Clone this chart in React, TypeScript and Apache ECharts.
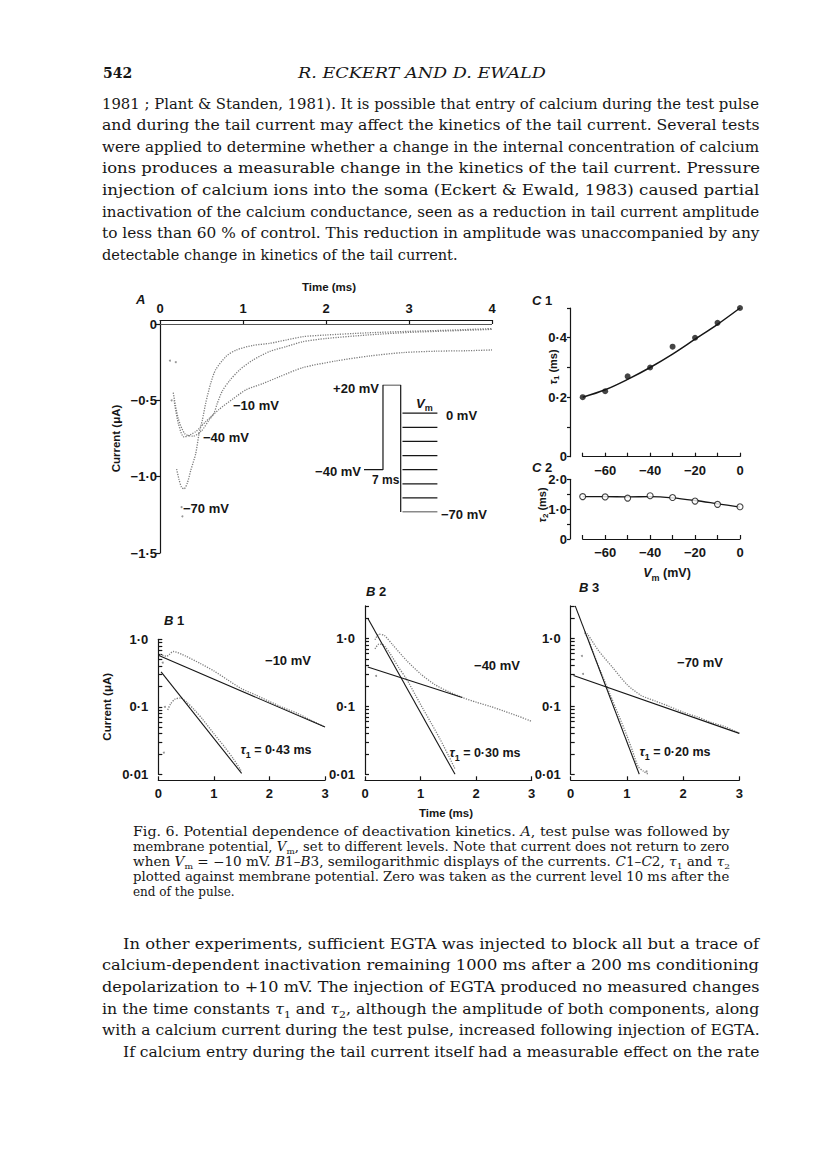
import React, { useEffect, useRef } from "react";
import * as echarts from "echarts";

// ---------------- DATA ----------------
// Panel A: tail currents, [time (ms), current (µA)]
const tailM10: number[][] = [
  [0.17, -0.5], [0.22, -0.65], [0.29, -0.74], [0.43, -0.705], [0.55, -0.64], [0.71, -0.56],
  [0.88, -0.49], [1.04, -0.43], [1.24, -0.39], [1.44, -0.345], [1.72, -0.286], [2.12, -0.242],
  [2.53, -0.209], [2.93, -0.187], [3.33, -0.178], [3.7, -0.175], [4.0, -0.17],
];
const tailM40: number[][] = [
  [0.16, -0.45], [0.22, -0.62], [0.3, -0.72], [0.4, -0.735], [0.5, -0.7], [0.59, -0.63],
  [0.65, -0.585], [0.69, -0.52], [0.75, -0.44], [0.84, -0.37], [0.96, -0.3], [1.12, -0.236],
  [1.32, -0.18], [1.52, -0.148], [1.72, -0.116], [2.0, -0.095], [2.5, -0.072], [3.0, -0.055],
  [3.5, -0.045], [4.0, -0.035],
];
const tailM70: number[][] = [
  [0.2, -0.95], [0.23, -1.02], [0.26, -1.07], [0.29, -1.08], [0.33, -1.04], [0.37, -0.96],
  [0.43, -0.85], [0.47, -0.72], [0.51, -0.63], [0.55, -0.52], [0.61, -0.39], [0.67, -0.3],
  [0.8, -0.21], [0.92, -0.17], [1.12, -0.14], [1.32, -0.127], [1.52, -0.105], [1.72, -0.083],
  [2.0, -0.072], [2.5, -0.058], [3.0, -0.048], [3.5, -0.04], [4.0, -0.03],
];
const tailDots: number[][] = [[0.12, -0.24], [0.19, -0.25], [0.14, -0.5], [0.26, -1.2], [0.27, -1.26]];

// Panel A inset: voltage protocol, [time (ms), Vm (mV)]
const protocolPulse: number[][] = [[-7.5, -40], [0, -40], [0, 20], [7, 20], [7, -70]];
const stepLevels: number[] = [0, -10, -20, -30, -40, -50, -60, -70];
const stepSpan: number[] = [7.7, 21.5];

// Panels C1/C2: time constants vs membrane potential
const vm: number[] = [-70, -60, -50, -40, -30, -20, -10, 0];
const tau1: number[] = [0.2, 0.22, 0.27, 0.3, 0.37, 0.4, 0.45, 0.5];
const tau1Fit: number[] = [0.2, 0.225, 0.26, 0.3, 0.345, 0.395, 0.445, 0.5];
const tau2: number[] = [1.42, 1.41, 1.37, 1.45, 1.39, 1.27, 1.16, 1.08];
const tau2Fit: number[] = [1.42, 1.42, 1.41, 1.42, 1.38, 1.29, 1.18, 1.07];

// Panels B1–B3: semilog currents, [time (ms), current (µA)]
const b1Raw: number[][] = [
  [0.03, 0.6], [0.15, 0.56], [0.27, 0.66], [0.5, 0.56], [0.75, 0.44], [1.0, 0.34], [1.25, 0.25],
  [1.5, 0.185], [1.75, 0.15], [2.0, 0.12], [2.25, 0.097], [2.5, 0.08], [2.75, 0.063], [3.0, 0.05],
];
const b1Diff: number[][] = [
  [0.17, 0.09], [0.22, 0.11], [0.3, 0.13], [0.4, 0.135], [0.5, 0.12], [0.65, 0.09], [0.8, 0.065],
  [1.0, 0.04], [1.2, 0.025], [1.35, 0.017], [1.5, 0.011],
];
const b1Dots: number[][] = [[0.1, 0.021], [0.12, 0.1], [0.08, 0.45]];
const b1SlowFit: number[][] = [[0, 0.58], [3, 0.05]];
const b1FastFit: number[][] = [[0.05, 0.33], [1.5, 0.0103]];

const b2Raw: number[][] = [
  [0.18, 0.95], [0.25, 1.15], [0.35, 1.1], [0.5, 0.8], [0.75, 0.47], [1.0, 0.3], [1.25, 0.21],
  [1.5, 0.165], [1.75, 0.135], [2.0, 0.115], [2.25, 0.1], [2.5, 0.085], [2.75, 0.072], [3.0, 0.06],
];
const b2Diff: number[][] = [
  [0.18, 0.7], [0.25, 0.82], [0.33, 0.8], [0.45, 0.6], [0.6, 0.38], [0.75, 0.25], [0.9, 0.15],
  [1.05, 0.09], [1.2, 0.055], [1.35, 0.033], [1.5, 0.019], [1.62, 0.012],
];
const b2Dots: number[][] = [[0.2, 0.28]];
const b2SlowFit: number[][] = [[0.05, 0.38], [1.75, 0.135]];
const b2FastFit: number[][] = [[0.05, 1.97], [1.62, 0.01]];

const b3Raw: number[][] = [
  [0.25, 1.25], [0.3, 1.15], [0.5, 0.65], [0.75, 0.37], [1.0, 0.21], [1.25, 0.145], [1.5, 0.12],
  [1.75, 0.1], [2.0, 0.082], [2.25, 0.07], [2.5, 0.058], [2.75, 0.05], [3.0, 0.04],
];
const b3Diff: number[][] = [
  [0.25, 1.2], [0.32, 0.95], [0.4, 0.62], [0.55, 0.3], [0.7, 0.15], [0.85, 0.075], [1.0, 0.037],
  [1.1, 0.022], [1.2, 0.013], [1.3, 0.011], [1.38, 0.01],
];
const b3Dots: number[][] = [[0.2, 0.55], [0.22, 0.3], [1.35, 0.011]];
const b3SlowFit: number[][] = [[0.05, 0.285], [3, 0.04]];
const b3FastFit: number[][] = [[0.08, 3.0], [1.22, 0.01]];

// Tick values
const timeTicksA: number[] = [0, 1, 2, 3, 4];
const logTickValues: number[] = [
  0.01, 0.02, 0.03, 0.04, 0.05, 0.06, 0.07, 0.08, 0.09,
  0.1, 0.2, 0.3, 0.4, 0.5, 0.6, 0.7, 0.8, 0.9, 1, 2, 3,
];
const logLabelValues: number[] = [0.01, 0.1, 1];
const vmLabelValues: number[] = [-60, -40, -20, 0];
const tau1LabelValues: number[] = [0, 0.2, 0.4];
const tau2LabelValues: number[] = [0, 1, 2];

// Page text
const headerPage = "542";
const headerAuthors = "R. ECKERT AND D. EWALD";
const bodyLines: string[] = [
  "1981 ; Plant & Standen, 1981). It is possible that entry of calcium during the test pulse",
  "and during the tail current may affect the kinetics of the tail current. Several tests",
  "were applied to determine whether a change in the internal concentration of calcium",
  "ions produces a measurable change in the kinetics of the tail current. Pressure",
  "injection of calcium ions into the soma (Eckert & Ewald, 1983) caused partial",
  "inactivation of the calcium conductance, seen as a reduction in tail current amplitude",
  "to less than 60 % of control. This reduction in amplitude was unaccompanied by any",
  "detectable change in kinetics of the tail current.",
];
const captionLines: string[] = [
  "{n|Fig. 6. Potential dependence of deactivation kinetics. }{i|A}{n|, test pulse was followed by}",
  "{n|membrane potential, }{i|V}{s|m}{n|, set to different levels. Note that current does not return to zero}",
  "{n|when }{i|V}{s|m}{n| = −10 mV. }{i|B}{n|1–}{i|B}{n|3, semilogarithmic displays of the currents. }{i|C}{n|1–}{i|C}{n|2, }{i|τ}{s|1}{n| and }{i|τ}{s|2}",
  "plotted against membrane potential. Zero was taken as the current level 10 ms after the",
  "end of the pulse.",
];
const laterLines: string[] = [
  "In other experiments, sufficient EGTA was injected to block all but a trace of",
  "calcium-dependent inactivation remaining 1000 ms after a 200 ms conditioning",
  "depolarization to +10 mV. The injection of EGTA produced no measured changes",
  "{n|in the time constants }{i|τ}{s|1}{n| and }{i|τ}{s|2}{n|, although the amplitude of both components, along}",
  "with a calcium current during the test pulse, increased following injection of EGTA.",
  "If calcium entry during the tail current itself had a measurable effect on the rate",
];

// ---------------- HELPERS ----------------
const INK = "#161616";
const TRACE = "#7c7c7c";
const SANS = '"Liberation Sans", Arial, sans-serif';
const SERIF = '"DejaVu Serif", serif';

let measureCtx: CanvasRenderingContext2D | null = null;
function ctx2d() {
  if (!measureCtx) measureCtx = document.createElement("canvas").getContext("2d");
  return measureCtx as CanvasRenderingContext2D;
}

function parse(s: string): [string, string][] {
  if (!s.includes("{")) return [[s, "n"]];
  const out: [string, string][] = [];
  const re = /\{(\w)\|([^}]*)\}/g;
  let m: RegExpExecArray | null;
  while ((m = re.exec(s))) out.push([m[2], m[1]]);
  return out;
}

function richFor(size: number, family: string, weight: string, color: string) {
  const lh = Math.round(size * 1.4);
  const sub = Math.round(size * 0.7);
  return {
    n: { fontFamily: family, fontSize: size, fontWeight: weight, lineHeight: lh, fill: color },
    i: { fontFamily: family, fontSize: size, fontWeight: weight, fontStyle: "italic", lineHeight: lh, fill: color },
    s: { fontFamily: family, fontSize: sub, fontWeight: weight, lineHeight: Math.round(sub * 1.05), verticalAlign: "bottom", fill: color },
  };
}

type TxtOpt = {
  size: number;
  family?: string;
  weight?: string;
  width?: number;
  align?: string;
  rotation?: number;
  color?: string;
};

function txt(markup: string, x: number, y: number, o: TxtOpt) {
  const segs = parse(markup);
  const family = o.family ?? SERIF;
  const weight = o.weight ?? "normal";
  const color = o.color ?? INK;
  const ctx = ctx2d();
  let w = 0;
  for (const [t, k] of segs) {
    const sz = k === "s" ? Math.round(o.size * 0.7) : o.size;
    ctx.font = `${k === "i" ? "italic " : ""}${weight === "bold" ? "bold " : ""}${sz}px ${family}`;
    w += ctx.measureText(t).width;
  }
  const scaleX = o.width && w > 0 ? o.width / w : 1;
  return {
    type: "text",
    x,
    y,
    scaleX,
    rotation: o.rotation ?? 0,
    silent: true,
    z: 50,
    style: {
      text: segs.map(([t, k]) => `{${k}|${t}}`).join(""),
      rich: richFor(o.size, family, weight, color),
      fontFamily: family,
      fontSize: o.size,
      fontWeight: weight,
      fill: color,
      align: o.align ?? "left",
      verticalAlign: "middle",
    },
  };
}

const minusFmt = (v: number) => (v === 0 ? "0" : (v < 0 ? "−" : "") + Math.abs(v));
const decFmt = (v: number) =>
  Math.abs(v) < 1e-9 ? "0" : (v < 0 ? "−" : "") + Math.abs(v).toFixed(1).replace(".", "·");
const logFmt = (v: number) => (v >= 1 ? v.toFixed(1) : String(+v.toPrecision(3))).replace(".", "·");

const tickLabel = { fontFamily: SANS, fontSize: 13, fontWeight: "bold", color: INK };
const lineStyleInk = { color: INK, width: 1.2 };

function valueAxis(extra: any) {
  return {
    type: "value",
    splitLine: { show: false },
    axisLine: { show: true, onZero: false, lineStyle: lineStyleInk },
    ...extra,
  };
}

function dotted(data: number[][], xi: number, yi: number, smooth = 0.25) {
  return {
    type: "line",
    xAxisIndex: xi,
    yAxisIndex: yi,
    data,
    symbol: "none",
    showSymbol: false,
    smooth,
    silent: true,
    lineStyle: { color: TRACE, width: 1.3, type: [1.2, 1.3] },
  };
}
function solid(data: number[][], xi: number, yi: number, width = 1.2, smooth: any = false) {
  return {
    type: "line",
    xAxisIndex: xi,
    yAxisIndex: yi,
    data,
    symbol: "none",
    showSymbol: false,
    smooth,
    silent: true,
    lineStyle: { color: INK, width },
  };
}
function dots(data: number[][], xi: number, yi: number) {
  return {
    type: "scatter",
    xAxisIndex: xi,
    yAxisIndex: yi,
    data,
    symbolSize: 2,
    silent: true,
    itemStyle: { color: TRACE },
  };
}

function buildOption() {
  const gridDefs = [
    { left: 160, top: 324, width: 332, height: 229 }, // A
    { left: 364, top: 385, width: 73.4, height: 127 }, // A inset
    { left: 582.7, top: 308, width: 157.3, height: 148.7 }, // C1
    { left: 582.7, top: 479.3, width: 157.3, height: 59.7 }, // C2
    { left: 158.3, top: 639.3, width: 166.7, height: 135 }, // B1
    { left: 365, top: 605.9, width: 166.7, height: 168.4 }, // B2
    { left: 570.7, top: 605.9, width: 168.6, height: 168.4 }, // B3
  ];
  const grid = gridDefs.map((g) => ({ ...g, containLabel: false, outerBoundsMode: "none", show: false }));

  const bX = (gi: number) =>
    valueAxis({
      gridIndex: gi,
      min: 0,
      max: 3,
      interval: 1,
      position: "bottom",
      offset: 6,
      axisTick: { show: true, inside: true, length: 4, lineStyle: lineStyleInk },
      axisLabel: { ...tickLabel, margin: 7 },
    });
  const bY = (gi: number, max: number, name?: string) => ({
    type: "log",
    logBase: 10,
    gridIndex: gi,
    min: 0.01,
    max,
    splitLine: { show: false },
    minorTick: { show: false },
    axisLine: { show: true, onZero: false, lineStyle: lineStyleInk },
    axisTick: { show: true, inside: true, length: 4, lineStyle: lineStyleInk, customValues: logTickValues.filter((v) => v <= max + 1e-9) },
    axisLabel: { ...tickLabel, margin: 10, customValues: logLabelValues, formatter: logFmt },
    name: name ?? "",
    nameLocation: "middle",
    nameRotate: 90,
    nameGap: 45,
    nameTextStyle: { fontFamily: SANS, fontSize: 11.5, fontWeight: "bold", color: INK },
  });
  const cX = (gi: number) =>
    valueAxis({
      gridIndex: gi,
      min: -70,
      max: 0,
      interval: 10,
      position: "bottom",
      axisTick: { show: true, inside: true, length: 4, lineStyle: lineStyleInk },
      axisLabel: { ...tickLabel, margin: 7, customValues: vmLabelValues, formatter: minusFmt },
    });

  const xAxis = [
    valueAxis({
      gridIndex: 0,
      min: timeTicksA[0],
      max: timeTicksA[timeTicksA.length - 1],
      interval: 1,
      position: "top",
      offset: 4,
      axisTick: { show: true, inside: true, length: 4, lineStyle: lineStyleInk },
      axisLabel: { ...tickLabel, margin: 5 },
    }),
    { type: "value", gridIndex: 1, min: -7.5, max: 21.5, show: false },
    cX(2),
    cX(3),
    bX(4),
    bX(5),
    bX(6),
  ];
  const yAxis = [
    valueAxis({
      gridIndex: 0,
      min: -1.5,
      max: 0,
      interval: 0.5,
      axisTick: { show: true, inside: false, length: 5, lineStyle: lineStyleInk },
      axisLabel: { ...tickLabel, margin: 3, formatter: decFmt },
      name: "Current (μA)",
      nameLocation: "middle",
      nameRotate: 90,
      nameGap: 38,
      nameTextStyle: { fontFamily: SANS, fontSize: 11.5, fontWeight: "bold", color: INK },
    }),
    { type: "value", gridIndex: 1, min: -70, max: 20, show: false },
    valueAxis({
      gridIndex: 2,
      min: 0,
      max: 0.5,
      interval: 0.1,
      offset: 12.7,
      axisTick: { show: true, inside: false, length: 3, lineStyle: lineStyleInk },
      axisLabel: { ...tickLabel, margin: 3, customValues: tau1LabelValues, formatter: decFmt },
    }),
    valueAxis({
      gridIndex: 3,
      min: 0,
      max: 2,
      interval: 0.5,
      offset: 12.7,
      axisTick: { show: true, inside: false, length: 3, lineStyle: lineStyleInk },
      axisLabel: { ...tickLabel, margin: 3, customValues: tau2LabelValues, formatter: decFmt },
    }),
    bY(4, 1, "Current (μA)"),
    bY(5, 3),
    bY(6, 3),
  ];

  const series: any[] = [
    // Panel A
    {
      ...dotted(tailM10, 0, 0),
      markLine: {
        silent: true,
        symbol: "none",
        label: { show: false },
        lineStyle: { color: "#555", width: 1, type: "solid" },
        data: [{ yAxis: 0 }],
      },
    },
    dotted(tailM40, 0, 0),
    dotted(tailM70, 0, 0),
    dots(tailDots, 0, 0),
    // inset protocol
    solid(protocolPulse, 1, 1, 1.2),
    ...stepLevels.map((lv) => solid([[stepSpan[0], lv], [stepSpan[1], lv]], 1, 1, 1.2)),
    // C1
    solid(vm.map((v, i) => [v, tau1Fit[i]]), 2, 2, 1.5, 0.35),
    {
      type: "scatter",
      xAxisIndex: 2,
      yAxisIndex: 2,
      data: vm.map((v, i) => [v, tau1[i]]),
      symbol: "circle",
      symbolSize: 6,
      silent: true,
      itemStyle: { color: INK },
      z: 5,
    },
    // C2
    solid(vm.map((v, i) => [v, tau2Fit[i]]), 3, 3, 1.3, 0.3),
    {
      type: "scatter",
      xAxisIndex: 3,
      yAxisIndex: 3,
      data: vm.map((v, i) => [v, tau2[i]]),
      symbol: "circle",
      symbolSize: 6,
      silent: true,
      itemStyle: { color: "#fff", borderColor: INK, borderWidth: 1.1 },
      z: 5,
    },
    // B1
    dotted(b1Raw, 4, 4),
    dotted(b1Diff, 4, 4),
    dots(b1Dots, 4, 4),
    solid(b1SlowFit, 4, 4, 1.1),
    solid(b1FastFit, 4, 4, 1.1),
    // B2
    dotted(b2Raw, 5, 5),
    dotted(b2Diff, 5, 5),
    dots(b2Dots, 5, 5),
    solid(b2SlowFit, 5, 5, 1.1),
    solid(b2FastFit, 5, 5, 1.1),
    // B3
    dotted(b3Raw, 6, 6),
    dotted(b3Diff, 6, 6),
    dots(b3Dots, 6, 6),
    solid(b3SlowFit, 6, 6, 1.1),
    solid(b3FastFit, 6, 6, 1.1),
  ];

  const fig = { family: SANS, weight: "bold" };
  const elements: any[] = [];

  // header + body text
  elements.push(txt(headerPage, 103, 73, { size: 14, weight: "bold" }));
  elements.push(txt(`{i|${headerAuthors}}`, 298, 73, { size: 14, width: 248 }));
  bodyLines.forEach((l, i) => {
    const last = i === bodyLines.length - 1;
    elements.push(txt(l, 102, 104 + i * 21.5, { size: 14.5, width: last ? undefined : 658 }));
  });

  // Panel A annotations
  elements.push(txt("Time (ms)", 329, 287, { ...fig, size: 11.5, align: "center" }));
  elements.push(txt("{i|A}", 136, 299, { ...fig, size: 13 }));
  elements.push(txt("−10 mV", 233, 405, { ...fig, size: 13 }));
  elements.push(txt("−40 mV", 203, 437, { ...fig, size: 13 }));
  elements.push(txt("−70 mV", 183, 508, { ...fig, size: 13 }));
  elements.push(txt("+20 mV", 379, 388, { ...fig, size: 13, align: "right" }));
  elements.push(txt("{i|V}{s|m}", 416, 403, { ...fig, size: 13 }));
  elements.push(txt("0 mV", 446, 415, { ...fig, size: 13 }));
  elements.push(txt("−40 mV", 361, 471, { ...fig, size: 13, align: "right" }));
  elements.push(txt("7 ms", 372, 480, { ...fig, size: 12 }));
  elements.push(txt("−70 mV", 441, 514, { ...fig, size: 13 }));

  // Panel C annotations
  elements.push(txt("{i|C}{n| 1}", 532, 300, { ...fig, size: 13 }));
  elements.push(txt("{i|C}{n| 2}", 532, 467, { ...fig, size: 13 }));
  elements.push(txt("{i|τ}{s|1}{n| (ms)}", 553, 367, { ...fig, size: 11, align: "center", rotation: Math.PI / 2 }));
  elements.push(txt("{i|τ}{s|2}{n| (ms)}", 542, 505, { ...fig, size: 11, align: "center", rotation: Math.PI / 2 }));
  elements.push(txt("{i|V}{s|m}{n| (mV)}", 667, 573, { ...fig, size: 12.5, align: "center" }));

  // Panel B annotations
  elements.push(txt("{i|B}{n| 1}", 164, 620, { ...fig, size: 13 }));
  elements.push(txt("{i|B}{n| 2}", 366, 591, { ...fig, size: 13 }));
  elements.push(txt("{i|B}{n| 3}", 579, 587, { ...fig, size: 13 }));
  elements.push(txt("−10 mV", 288, 660, { ...fig, size: 13, align: "center" }));
  elements.push(txt("−40 mV", 497, 665, { ...fig, size: 13, align: "center" }));
  elements.push(txt("−70 mV", 700, 662, { ...fig, size: 13, align: "center" }));
  elements.push(txt("{i|τ}{s|1}{n| = 0·43 ms}", 276, 750, { ...fig, size: 12.5, align: "center" }));
  elements.push(txt("{i|τ}{s|1}{n| = 0·30 ms}", 485, 753, { ...fig, size: 12.5, align: "center" }));
  elements.push(txt("{i|τ}{s|1}{n| = 0·20 ms}", 675, 752, { ...fig, size: 12.5, align: "center" }));
  elements.push(txt("Time (ms)", 446, 813, { ...fig, size: 11.5, align: "center" }));

  // caption
  captionLines.forEach((l, i) => {
    const last = i === captionLines.length - 1;
    elements.push(txt(l, 133, 832 + i * 14.9, { size: 12, width: last ? undefined : 597 }));
  });

  // following paragraph
  laterLines.forEach((l, i) => {
    const indent = i === 0 || i === laterLines.length - 1;
    const x = indent ? 123 : 102;
    elements.push(txt(l, x, 944 + i * 21.6, { size: 14.5, width: 760 - x }));
  });

  return {
    animation: false,
    backgroundColor: "#ffffff",
    grid,
    xAxis,
    yAxis,
    series,
    graphic: { elements },
  };
}

export default function App() {
  const ref = useRef<HTMLDivElement>(null);
  useEffect(() => {
    if (!ref.current) return;
    const chart = echarts.init(ref.current, null, { renderer: "svg" });
    chart.setOption(buildOption() as any);
    return () => chart.dispose();
  }, []);
  return (
    <div
      ref={ref}
      style={{ position: "absolute", left: 0, top: 0, width: 816, height: 1160, background: "#fff" }}
    />
  );
}
